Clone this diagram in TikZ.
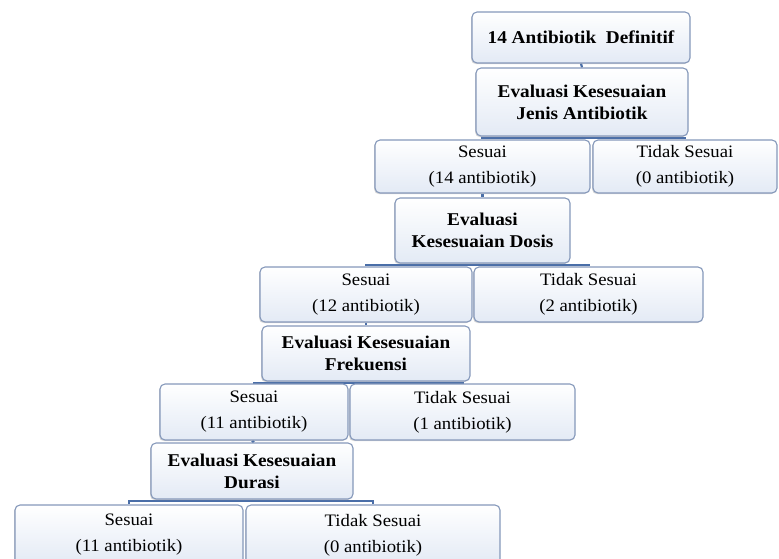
\documentclass[tikz,border=0pt]{standalone}
\usepackage{fontspec}
\setmainfont{Liberation Serif}[FakeStretch=1.07]
\usetikzlibrary{backgrounds,shadows}

\definecolor{kotakgaris}{HTML}{8598BA}
\definecolor{kotakbawah}{HTML}{E3EAF5}
\definecolor{garishubung}{HTML}{4A6EA8}

\begin{document}
\begin{tikzpicture}[x=1pt,y=-1pt,
	kotak/.style={draw=kotakgaris,line width=1.1pt,rectangle,rounded corners=5pt,
		top color=white,bottom color=kotakbawah,align=center,inner sep=0pt,
		drop shadow={shadow xshift=-1pt,shadow yshift=-1.2pt,fill=gray!70,opacity=.45}},
	evalbox/.style={kotak,font=\fontsize{18}{22}\selectfont\bfseries},
	hasilbox/.style={kotak,font=\fontsize{17.5}{26}\selectfont},
	hubung/.style={draw=garishubung,line width=2.2pt}]
	\useasboundingbox (0,0) rectangle (779,559);
	\node[evalbox,minimum width=218,minimum height=51] (awal)at(581,37.5) {14 Antibiotik\ \ Definitif};
	\node[evalbox,minimum width=212,minimum height=68] (jenis)at(582,102) {Evaluasi Kesesuaian\\Jenis Antibiotik};
	\node[hasilbox,minimum width=215,minimum height=53] (jenisYa)at(482.5,166.5) {Sesuai\\(14 antibiotik)};
	\node[hasilbox,minimum width=184,minimum height=53] (jenisTidak)at(685,166.5) {Tidak Sesuai\\(0 antibiotik)};
	\node[evalbox,minimum width=175,minimum height=65] (dosis)at(482.5,230.5) {Evaluasi\\Kesesuaian Dosis};
	\node[hasilbox,minimum width=212,minimum height=55] (dosisYa)at(366,294.5) {Sesuai\\(12 antibiotik)};
	\node[hasilbox,minimum width=229,minimum height=55] (dosisTidak)at(588.5,294.5) {Tidak Sesuai\\(2 antibiotik)};
	\node[evalbox,minimum width=208,minimum height=55] (frek)at(366,353.5) {Evaluasi Kesesuaian\\Frekuensi};
	\node[hasilbox,minimum width=188,minimum height=56] (frekYa)at(254,412) {Sesuai\\(11 antibiotik)};
	\node[hasilbox,minimum width=225,minimum height=56] (frekTidak)at(462.5,412) {Tidak Sesuai\\(1 antibiotik)};
	\node[evalbox,minimum width=202,minimum height=56] (durasi)at(252,471) {Evaluasi Kesesuaian\\Durasi};
	\node[hasilbox,minimum width=228,minimum height=60] (durasiYa)at(129,535) {Sesuai\\(11 antibiotik)};
	\node[hasilbox,minimum width=254,minimum height=60] (durasiTidak)at(373,535) {Tidak Sesuai\\(0 antibiotik)};
	\begin{scope}[on background layer]
		\draw[hubung] (awal.south) -- (jenis.north);
		\draw[hubung] (jenis.south) -- ++(0,1.5) -| (jenisYa.north);
		\draw[hubung] (jenis.south) -- ++(0,1.5) -| (jenisTidak.north);
		\draw[hubung] (jenisYa.south) -- (dosis.north);
		\draw[hubung] (dosis.south) -- ++(0,1.5) -| (dosisYa.north);
		\draw[hubung] (dosis.south) -- ++(0,1.5) -| (dosisTidak.north);
		\draw[hubung] (dosisYa.south) -- (frek.north);
		\draw[hubung] (frek.south) -- ++(0,1.5) -| (frekYa.north);
		\draw[hubung] (frek.south) -- ++(0,1.5) -| (frekTidak.north);
		\draw[hubung] (frekYa.south) -- (durasi.north);
		\draw[hubung] (durasi.south) -- ++(0,1.5) -| (durasiYa.north);
		\draw[hubung] (durasi.south) -- ++(0,1.5) -| (durasiTidak.north);
	\end{scope}
\end{tikzpicture}
\end{document}
